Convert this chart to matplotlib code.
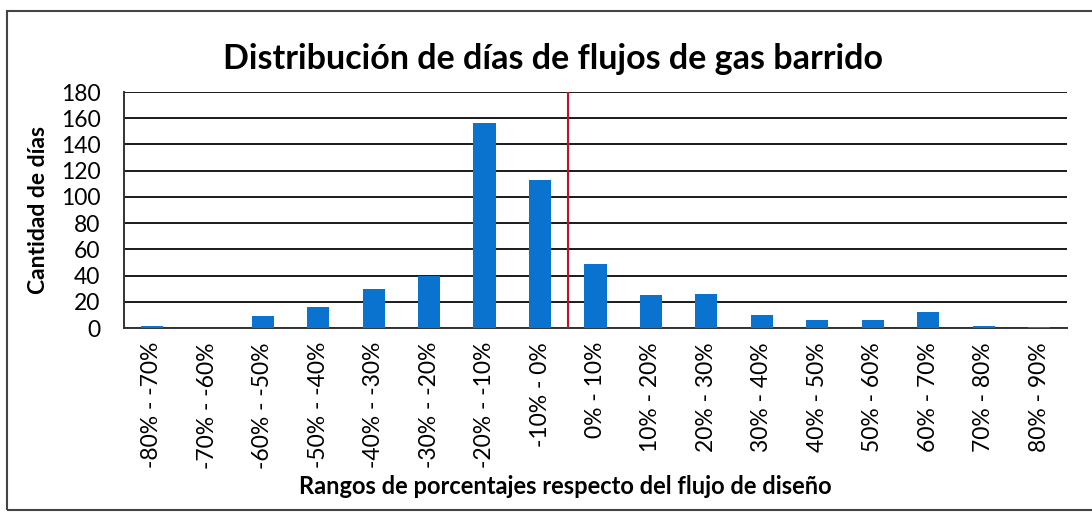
import matplotlib
matplotlib.use("Agg")
import matplotlib.pyplot as plt
from matplotlib.patches import Rectangle

# rangos (categorias) y cantidad de dias
rangos = ["-80% - -70%", "-70% - -60%", "-60% - -50%", "-50% - -40%",
          "-40% - -30%", "-30% - -20%", "-20% - -10%", "-10% - 0%",
          "0% - 10%", "10% - 20%", "20% - 30%", "30% - 40%",
          "40% - 50%", "50% - 60%", "60% - 70%", "70% - 80%", "80% - 90%"]
dias = [2, 0, 9, 16, 30, 40, 156, 113, 49, 25, 26, 10, 6, 6, 12, 2, 1]
y_ticks = [0, 20, 40, 60, 80, 100, 120, 140, 160, 180]
linea_diseno = 7.5  # entre "-10% - 0%" y "0% - 10%"

plt.rcParams['font.family'] = ['Lato', 'DejaVu Sans']

fig = plt.figure(figsize=(10.92, 5.12), dpi=100)
ax = fig.add_axes([0.1136, 0.359, 0.8634, 0.4613])

x = list(range(len(rangos)))
ax.bar(x, dias, width=0.4, color='#0a72cf', zorder=3)
ax.axvline(linea_diseno, color='#c0102a', lw=1.5, zorder=4)

ax.set_xlim(-0.5, len(rangos) - 0.5)
ax.set_ylim(0, 180)
ax.set_yticks(y_ticks)
ax.set_xticks(x)
ax.set_xticklabels(rangos, rotation=90, fontsize=16.5)
ax.tick_params(axis='y', labelsize=16.5, length=0, pad=17)
ax.tick_params(axis='x', length=0, pad=10)
ax.grid(axis='y', color='#1a1a1a', lw=1.4, zorder=1)

for s in ['top', 'right']:
    ax.spines[s].set_visible(False)
ax.spines['left'].set_color('#333333')
ax.spines['bottom'].set_color('#333333')
ax.spines['left'].set_linewidth(1.4)
ax.spines['bottom'].set_linewidth(1.4)

ax.set_ylabel("Cantidad de días", fontsize=16.5, fontweight='bold')
ax.yaxis.set_label_coords(-0.08, 0.5)

fig.text(0.506, 0.885, "Distribución de días de flujos de gas barrido",
         ha='center', va='center', fontsize=24.5, fontweight='bold')
fig.text(0.518, 0.049, "Rangos de porcentajes respecto del flujo de diseño",
         ha='center', va='center', fontsize=17, fontweight='bold')

# marco exterior del grafico
fig.patches.append(Rectangle((7 / 1092, 2 / 512), 1.1, 499 / 512,
                             transform=fig.transFigure, fill=False,
                             edgecolor='#444444', lw=1.5))

fig.savefig("out.png", dpi=100)
